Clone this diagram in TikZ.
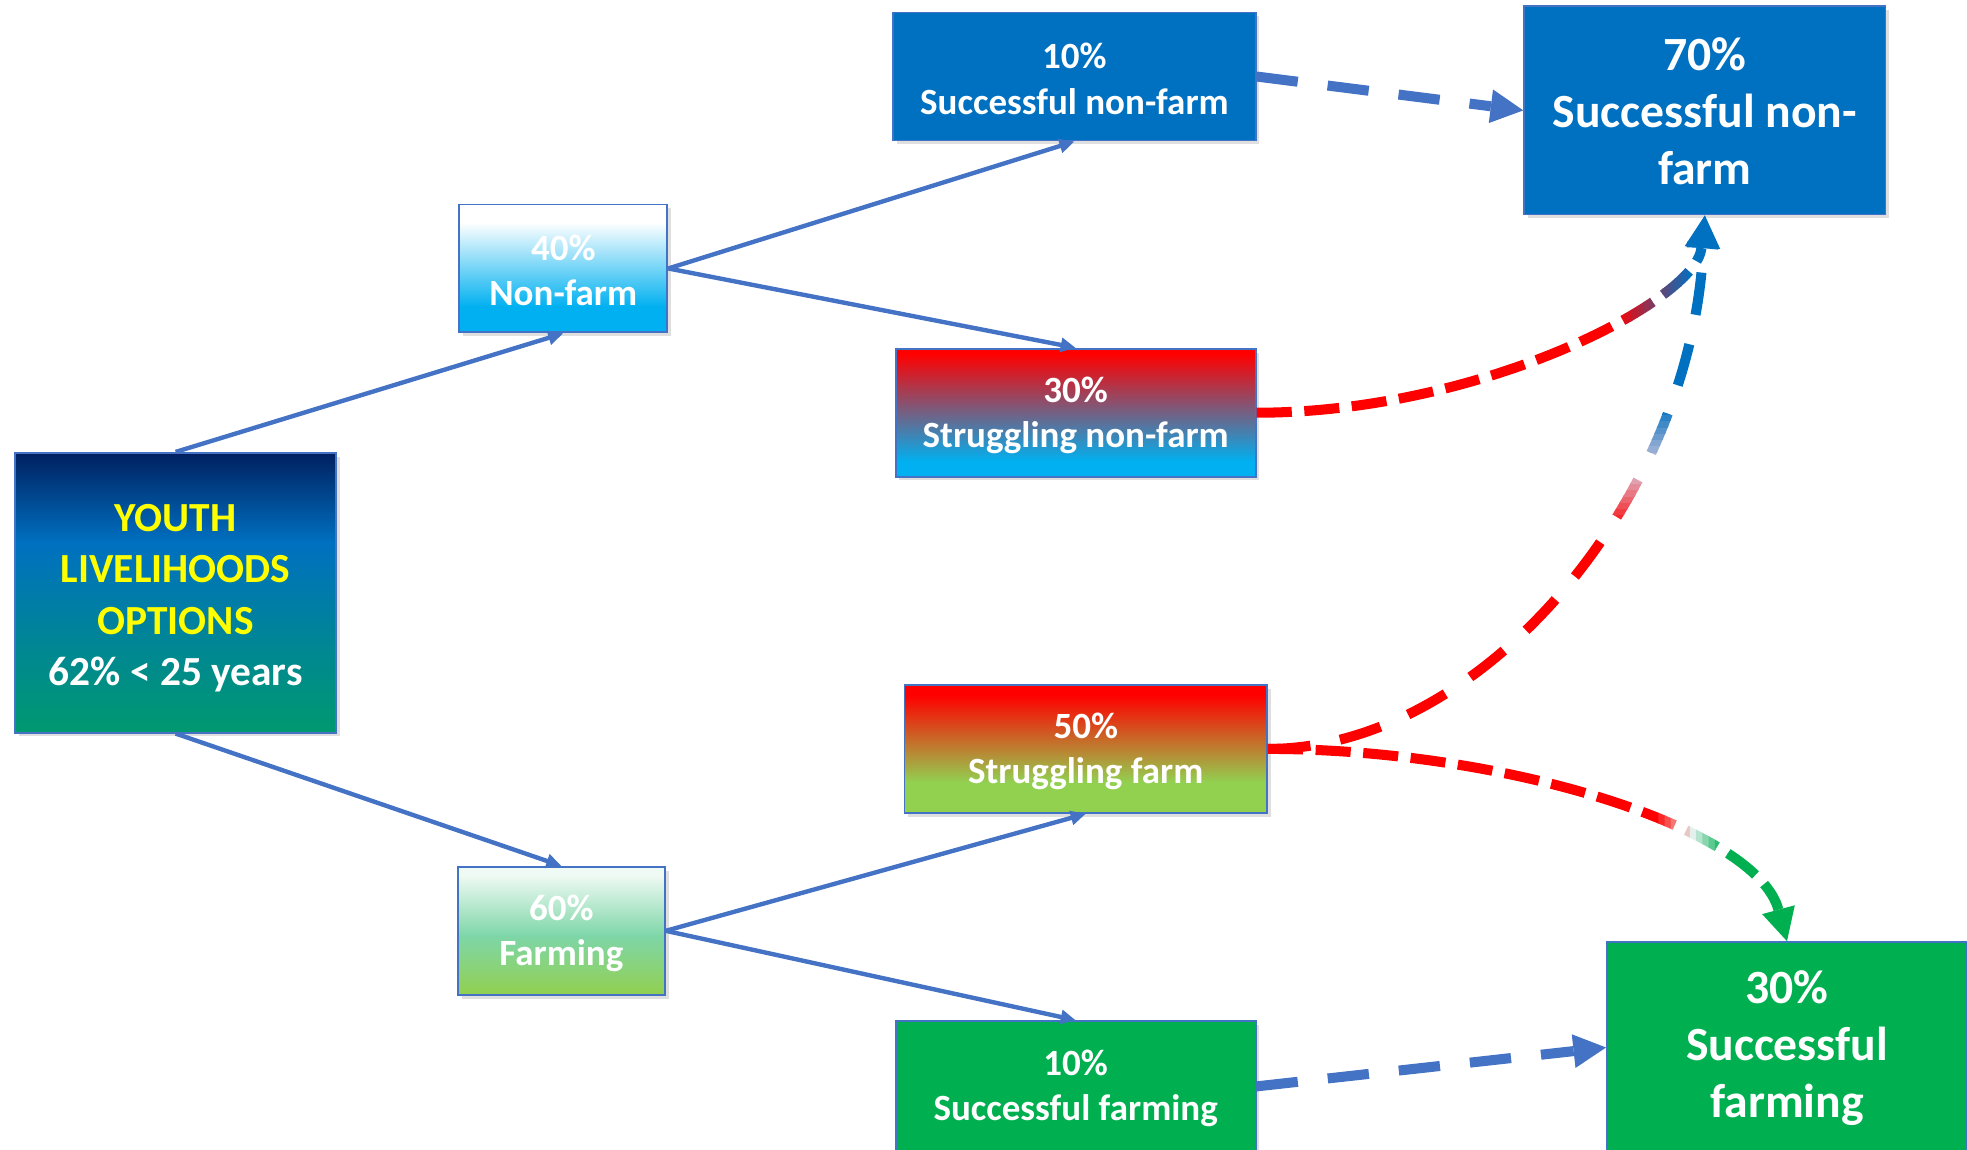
\documentclass[tikz,border=0pt]{standalone}
\usepackage{fontspec}
\setmainfont{Carlito}
\usepackage{xcolor}
\usetikzlibrary{arrows.meta, shadows}

\definecolor{navy}{HTML}{002060}
\definecolor{nfblue}{HTML}{0070C0}
\definecolor{cyanish}{HTML}{00B0F0}
\definecolor{lgreen}{HTML}{92D050}
\definecolor{sgreen}{HTML}{00B050}
\definecolor{ytgreen}{HTML}{00996F}
\definecolor{mint}{HTML}{7ED6A8}
\definecolor{paleMint}{HTML}{F0FAF4}
\definecolor{linkblue}{HTML}{4472C4}
\definecolor{titleyellow}{HTML}{FFFF00}
\definecolor{bfade}{HTML}{D8C8DC}
\definecolor{cfade}{HTML}{E4F0EC}

\pgfdeclareverticalshading{youthshade}{100bp}{color(0bp)=(ytgreen); color(25bp)=(ytgreen); color(59bp)=(nfblue); color(75bp)=(navy); color(100bp)=(navy)}
\pgfdeclareverticalshading{nonfarmshade}{100bp}{color(0bp)=(cyanish); color(25bp)=(cyanish); color(35bp)=(cyanish); color(68bp)=(white); color(100bp)=(white)}
\pgfdeclareverticalshading{farmshade}{100bp}{color(0bp)=(lgreen); color(25bp)=(lgreen); color(48bp)=(mint); color(72bp)=(paleMint); color(100bp)=(paleMint)}
\pgfdeclareverticalshading{strugnfshade}{100bp}{color(0bp)=(cyanish); color(25bp)=(cyanish); color(31bp)=(cyanish); color(73bp)=(red); color(100bp)=(red)}
\pgfdeclareverticalshading{strugfshade}{100bp}{color(0bp)=(lgreen); color(25bp)=(lgreen); color(37bp)=(lgreen); color(71bp)=(red); color(100bp)=(red)}

% strut on the first line of a box, to sit the text a little lower
\newcommand{\toppad}[1]{\rule{0pt}{#1}}

\tikzset{
  box/.style={draw=linkblue, line width=1.5pt, text=white, align=center, inner sep=0pt,
    font=\bfseries\fontsize{29.5}{36}\selectfont,
    drop shadow={shadow xshift=3pt, shadow yshift=-3pt, opacity=0.25}},
  bigbox/.style={box, font=\bfseries\fontsize{38}{45.5}\selectfont},
  link/.style={draw=linkblue, line width=3.5pt, -{Triangle[length=12pt,width=11pt]}},
  dashlink/.style={draw=linkblue, line width=8pt, dash pattern=on 33pt off 24pt,
    -{Triangle[length=26pt,width=27pt,line width=0pt]}},
  redlink/.style={draw=red, line width=8pt, dash pattern=on 28pt off 10pt,
    -{Triangle[length=26pt,width=27pt,line width=0pt]}},
  longred/.style={redlink, dash pattern=on 34pt off 24pt}
}

\begin{document}
\begin{tikzpicture}[x=1pt,y=-1pt]
  \useasboundingbox (0,0) rectangle (1568,916);

  % boxes
  \node[box, shading=youthshade, minimum width=256pt, minimum height=223pt,
    font=\bfseries\fontsize{33}{41}\selectfont] (youth) at (140,472.5)
    {\toppad{30pt}\textcolor{titleyellow}{YOUTH}\\ \textcolor{titleyellow}{LIVELIHOODS}\\
     \textcolor{titleyellow}{OPTIONS}\\ 62\% < 25 years};
  \node[box, shading=nonfarmshade, minimum width=166pt, minimum height=102pt] (nonfarm) at (449,214) {\toppad{24pt}40\%\\ Non-farm};
  \node[box, shading=farmshade, minimum width=165pt, minimum height=102pt] (farming) at (447.5,742) {\toppad{24pt}60\%\\ Farming};
  \node[box, fill=nfblue, minimum width=289pt, minimum height=102pt] (snf) at (856.5,61) {\toppad{24pt}10\%\\ Successful non-farm};
  \node[box, shading=strugnfshade, minimum width=287pt, minimum height=102pt] (struggnf) at (857.5,329) {\toppad{24pt}30\%\\ Struggling non-farm};
  \node[box, shading=strugfshade, minimum width=289pt, minimum height=102pt] (struggf) at (865.5,597) {\toppad{24pt}50\%\\ Struggling farm};
  \node[box, fill=sgreen, minimum width=287pt, minimum height=104pt] (sfarm) at (857.5,866) {\toppad{24pt}10\%\\ Successful farming};
  \node[bigbox, fill=nfblue, minimum width=288pt, minimum height=166pt] (bignf) at (1359,88) {\toppad{27pt}70\%\\ Successful non-\\ farm};
  \node[bigbox, fill=sgreen, minimum width=287pt, minimum height=168pt] (bigf) at (1424.5,835) {\toppad{27pt}30\%\\ Successful\\ farming};

  % tree links
  \draw[link] (youth.north) -- (nonfarm.south);
  \draw[link] (youth.south) -- (farming.north);
  \draw[link] (nonfarm.east) -- (snf.south);
  \draw[link] (nonfarm.east) -- (struggnf.north);
  \draw[link] (farming.east) -- (struggf.south);
  \draw[link] (farming.east) -- (sfarm.north);

  % straight dashed links
  \draw[dashlink] (snf.east) -- (bignf.west);
  \draw[dashlink] (sfarm.east) -- (bigf.west);

  % struggling non-farm -> 70%, red into blue
  \foreach \k in {0,...,12}{
    \pgfmathsetmacro\xa{\k==0 ? 1000 : 1285+5*\k}
    \pgfmathsetmacro\xb{\k==12 ? 1568 : 1290.5+5*\k}
    \pgfmathtruncatemacro\pc{100*\k/12}
    \begin{scope}
      \clip (\xa,0) rectangle (\xb,916);
      \draw[redlink, draw=nfblue!\pc!red] (struggnf.east) .. controls (1180,329) and (1352,240) .. (bignf.south);
    \end{scope}
  }

  % struggling farm -> 30% farming, red into green
  \foreach \k in {0,...,12}{
    \pgfmathsetmacro\xa{\k==0 ? 1000 : 1317+5*\k}
    \pgfmathsetmacro\xb{\k==12 ? 1568 : 1322.5+5*\k}
    \ifnum\k<7
      \pgfmathtruncatemacro\pc{100*\k/6}
      \colorlet{linkcol}{cfade!\pc!red}
    \else
      \pgfmathtruncatemacro\pc{min(100,20*(\k-6))}
      \colorlet{linkcol}{sgreen!\pc!cfade}
    \fi
    \begin{scope}
      \clip (\xa,0) rectangle (\xb,916);
      \draw[redlink, draw=linkcol] (struggf.east) .. controls (1200,597) and (1400,660) .. (bigf.north);
    \end{scope}
  }

  % struggling farm -> 70%, red into blue
  \foreach \k in {0,...,21}{
    \pgfmathsetmacro\ya{\k==21 ? 0 : 420-5*\k}
    \pgfmathsetmacro\yb{\k==0 ? 916 : 425.5-5*\k}
    \ifnum\k<11
      \pgfmathtruncatemacro\pc{10*\k}
      \colorlet{linkcol}{bfade!\pc!red}
    \else
      \pgfmathtruncatemacro\pc{min(100,10*(\k-10))}
      \colorlet{linkcol}{nfblue!\pc!bfade}
    \fi
    \begin{scope}
      \clip (1000,\ya) rectangle (1568,\yb);
      \draw[longred, draw=linkcol] (struggf.east) .. controls (1180,597) and (1348,400) .. (bignf.south);
    \end{scope}
  }
\end{tikzpicture}
\end{document}
